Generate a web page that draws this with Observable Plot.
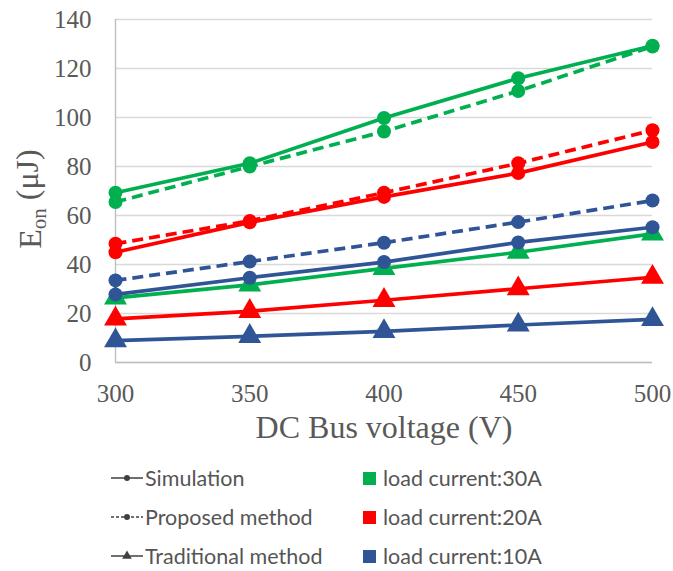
<!DOCTYPE html>
<html>
<head>
<meta charset="utf-8">
<script src="https://cdn.jsdelivr.net/npm/d3@7"></script>
<script src="https://cdn.jsdelivr.net/npm/@observablehq/plot@0.6"></script>
<style>
  html, body { margin: 0; padding: 0; background: #fff; }
  #wrap { position: relative; width: 673px; height: 571px; overflow: hidden; }
  #legend { position: absolute; left: 0; top: 460px; width: 673px; height: 111px;
            font-family: Lato, "Open Sans", sans-serif; font-size: 21.5px; color: #555555; }
  .item { position: absolute; display: flex; align-items: center; height: 30px; white-space: nowrap; }
  .item svg { display: block; margin-right: 1px; }
  .sq { width: 13px; height: 13px; margin-right: 7px; }
  #chart svg text { font-family: "Liberation Serif", "Times New Roman", serif; }
</style>
</head>
<body>
<div id="wrap"><div id="chart"></div><div id="legend"></div></div>
<script>
// ---- data ----
const voltages = [300, 350, 400, 450, 500];
const yTicks = [0, 20, 40, 60, 80, 100, 120, 140];
const xTicks = [300, 350, 400, 450, 500];
const currents = ["30A", "20A", "10A"];
const currentColors = ["#00b050", "#ff0000", "#2f5597"];
const methods = ["Simulation", "Proposed method", "Traditional method"];

const sim30  = [69.3, 81.3, 99.8, 116.0, 129.3];
const prop30 = [65.5, 80.0, 94.3, 110.8, 129.0];
const trad30 = [26.4, 31.7, 38.4, 45.0, 52.5];
const sim20  = [45.0, 57.2, 67.6, 77.3, 90.0];
const prop20 = [48.5, 57.8, 69.3, 81.3, 94.8];
const trad20 = [17.8, 20.9, 25.4, 30.1, 34.8];
const sim10  = [27.8, 34.6, 41.0, 49.0, 55.2];
const prop10 = [33.5, 41.2, 48.9, 57.3, 66.1];
const trad10 = [8.9, 10.7, 12.7, 15.3, 17.6];

const xTitle = "DC Bus voltage (V)";
const yTitleMain = "E", yTitleSub = "on", yTitleUnit = " (\u03bcJ)";

// ---- table ----
const seriesDefs = [
  ["Simulation", "30A", sim30], ["Proposed method", "30A", prop30], ["Traditional method", "30A", trad30],
  ["Simulation", "20A", sim20], ["Proposed method", "20A", prop20], ["Traditional method", "20A", trad20],
  ["Simulation", "10A", sim10], ["Proposed method", "10A", prop10], ["Traditional method", "10A", trad10]
];
const rows = seriesDefs.flatMap(([method, current, vals]) =>
  vals.map((v, i) => ({x: voltages[i], y: v, method, current, key: method + current})));
const byMethod = m => rows.filter(d => d.method === m);
const serif = "Liberation Serif";

const chart = Plot.plot({
  width: 673, height: 460,
  marginLeft: 115, marginRight: 21, marginTop: 19, marginBottom: 98,
  x: {domain: [300, 500]},
  y: {domain: [0, 140]},
  color: {domain: currents, range: currentColors},
  style: {fontFamily: serif, color: "#595959", background: "white", overflow: "visible"},
  marks: [
    Plot.gridY(yTicks, {stroke: "#d9d9d9", strokeOpacity: 1, strokeWidth: 1.4}),
    Plot.ruleY([0], {stroke: "#bfbfbf", strokeWidth: 1.4}),
    Plot.ruleX([300], {stroke: "#bfbfbf", strokeWidth: 1.4}),
    Plot.axisY(yTicks, {tickSize: 0, tickPadding: 24, fontSize: 25, fontFamily: serif, label: null}),
    Plot.axisX(xTicks, {tickSize: 0, tickPadding: 22, fontSize: 25, fontFamily: serif, label: null}),
    Plot.line(byMethod("Traditional method"), {x: "x", y: "y", z: "key", stroke: "current", strokeWidth: 3.7}),
    Plot.line(byMethod("Simulation"), {x: "x", y: "y", z: "key", stroke: "current", strokeWidth: 3.7}),
    Plot.line(byMethod("Proposed method"), {x: "x", y: "y", z: "key", stroke: "current", strokeWidth: 3.7, strokeDasharray: "11,6", strokeLinecap: "butt"}),
    Plot.dot(byMethod("Traditional method"), {x: "x", y: "y", fill: "current", symbol: "triangle", r: 8.5}),
    Plot.dot(byMethod("Simulation"), {x: "x", y: "y", fill: "current", symbol: "circle", r: 7}),
    Plot.dot(byMethod("Proposed method"), {x: "x", y: "y", fill: "current", symbol: "circle", r: 7}),
    Plot.text([xTitle], {frameAnchor: "bottom", dy: 75, fontSize: 32, fontFamily: serif, fill: "#595959"})
  ]
});
document.getElementById("chart").appendChild(chart);

// y-axis title with subscript
const yl = d3.select(chart).append("text")
  .attr("transform", "translate(41,199) rotate(-90)")
  .attr("text-anchor", "middle")
  .attr("fill", "#595959")
  .attr("font-size", 32)
  .attr("font-family", serif);
yl.append("tspan").text(yTitleMain);
yl.append("tspan").attr("font-size", 21).attr("dy", "0.25em").text(yTitleSub);
yl.append("tspan").attr("dy", "-0.25em").text(yTitleUnit);

// ---- legend ----
const legend = d3.select("#legend");
const rowTops = [3, 42, 81];
methods.forEach((m, i) => {
  const it = legend.append("div").attr("class", "item").style("left", "110px").style("top", rowTops[i] + "px");
  const s = it.append("svg").attr("width", 34).attr("height", 16);
  s.append("line").attr("x1", 1).attr("x2", 33).attr("y1", 8).attr("y2", 8)
    .attr("stroke", "#404040").attr("stroke-width", 1.5)
    .attr("stroke-dasharray", m === "Proposed method" ? "3,2" : null);
  if (m === "Traditional method") {
    s.append("path").attr("d", d3.symbol(d3.symbolTriangle, 40)()).attr("transform", "translate(17,8)").attr("fill", "#404040");
  } else {
    s.append("circle").attr("cx", 17).attr("cy", 8).attr("r", 3).attr("fill", "#404040");
  }
  it.append("span").text(m);
});
currents.forEach((c, i) => {
  const it = legend.append("div").attr("class", "item").style("left", "363px").style("top", rowTops[i] + "px");
  it.append("div").attr("class", "sq").style("background", currentColors[i]);
  it.append("span").text("load current:" + c);
});
</script>
</body>
</html>
